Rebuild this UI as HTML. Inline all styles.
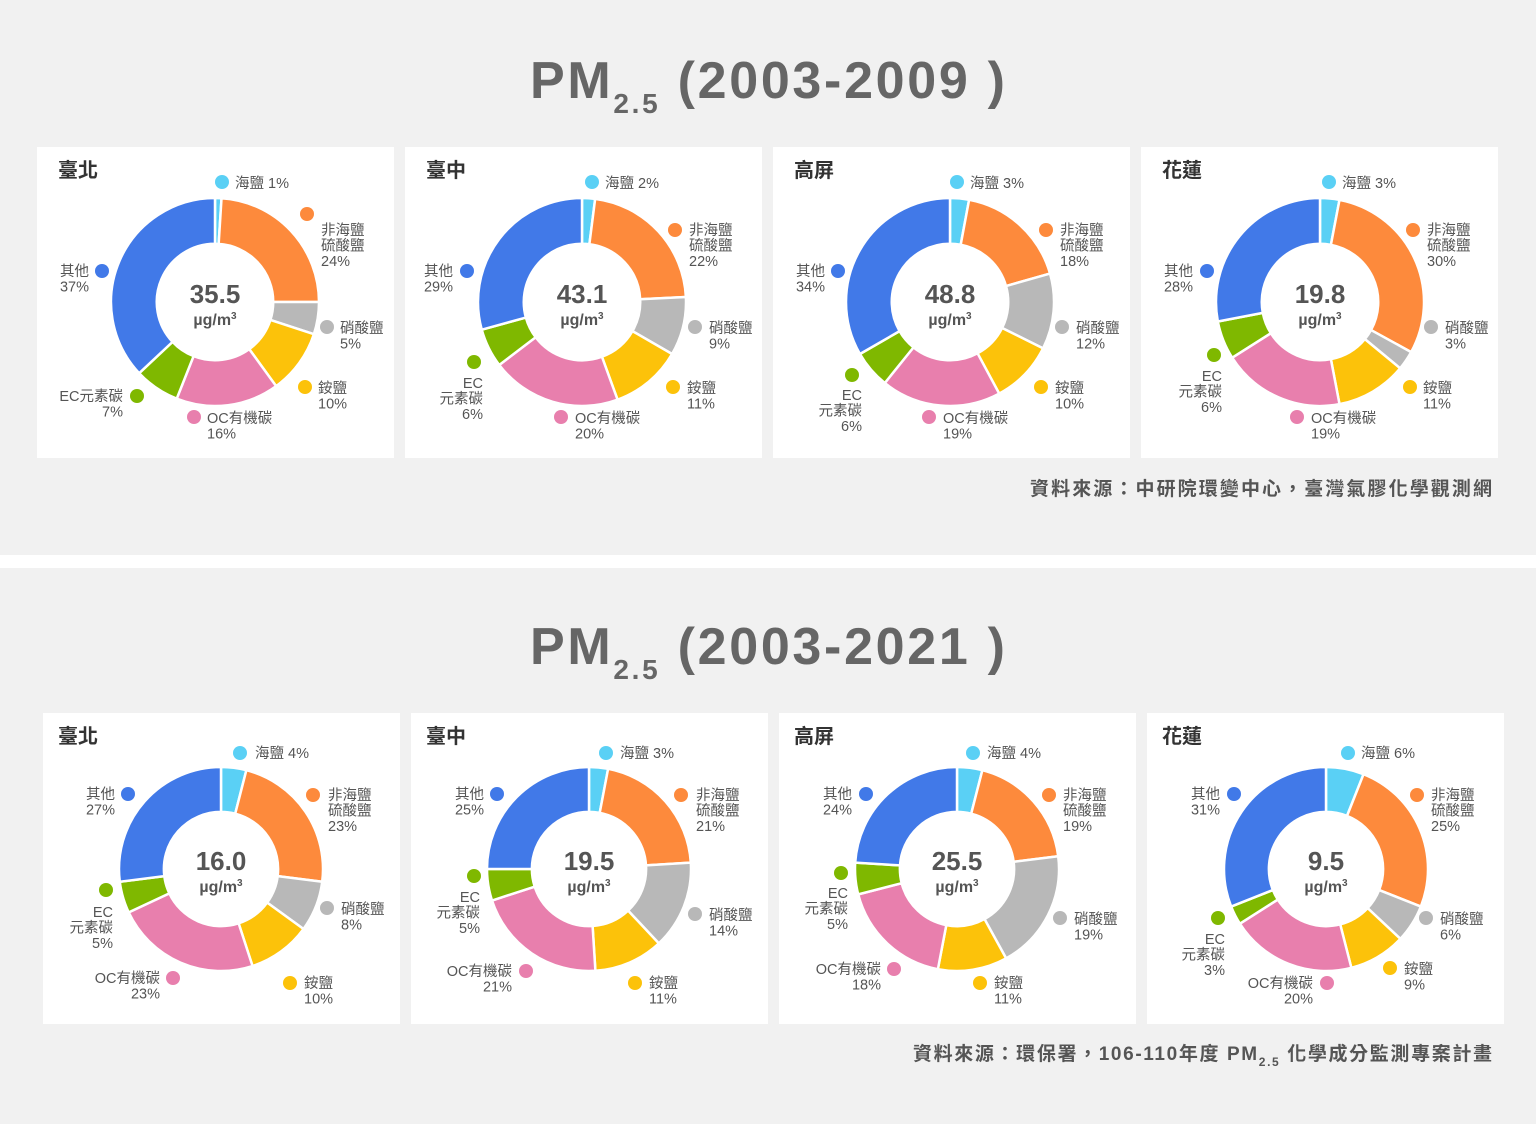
<!DOCTYPE html>
<html><head><meta charset="utf-8">
<style>
html,body{margin:0;padding:0;background:#f1f1f1;}
svg{display:block;font-family:"Liberation Sans","Noto Sans CJK TC",sans-serif;}
</style></head>
<body>
<svg id="s" width="1536" height="1124" viewBox="0 0 1536 1124" xmlns="http://www.w3.org/2000/svg">
<rect x="0" y="0" width="1536" height="1124" fill="#f1f1f1"/>
<rect x="0" y="555" width="1536" height="13" fill="#ffffff"/>
<text x="530" y="98" textLength="475" lengthAdjust="spacing" font-size="52" font-weight="bold" fill="#666">PM<tspan font-size="28" dy="15">2.5</tspan><tspan dy="-15"> (2003-2009 )</tspan></text>
<text x="530" y="664" textLength="475" lengthAdjust="spacing" font-size="52" font-weight="bold" fill="#666">PM<tspan font-size="28" dy="15">2.5</tspan><tspan dy="-15"> (2003-2021 )</tspan></text>
<text x="1030" y="495" textLength="462" lengthAdjust="spacing" font-size="19" font-weight="bold" fill="#555">資料來源：中研院環變中心，臺灣氣膠化學觀測網</text>
<text x="913" y="1060" textLength="579" lengthAdjust="spacing" font-size="19" font-weight="bold" fill="#555">資料來源：環保署，106-110年度 PM<tspan font-size="12" dy="6">2.5</tspan><tspan dy="-6"> 化學成分監測專案計畫</tspan></text>
<g id="g"></g>
</svg>
<script>
var C=['#5ad0f5','#fd8a3c','#b8b8b8','#fcc20a','#e87fad','#7fb800','#4179e8'];
var P=[
[37,147,'臺北',215,302,104,'35.5',[1,24,5,10,16,7,37],[
[0,222,182,'l',235,183,['海鹽 1%']],
[1,307,214,'l',321,230,['非海鹽','硫酸鹽','24%']],
[6,102,271,'r',89,271,['其他','37%']],
[2,327,327,'l',340,328,['硝酸鹽','5%']],
[3,305,387,'l',318,388,['銨鹽','10%']],
[4,194,417,'l',207,418,['OC有機碳','16%']],
[5,137,396,'r',123,396,['EC元素碳','7%']]]],
[405,147,'臺中',582,302,104,'43.1',[2,22,9,11,20,6,29],[
[0,592,182,'l',605,183,['海鹽 2%']],
[1,675,230,'l',689,230,['非海鹽','硫酸鹽','22%']],
[6,467,271,'r',453,271,['其他','29%']],
[2,695,327,'l',709,328,['硝酸鹽','9%']],
[3,673,387,'l',687,388,['銨鹽','11%']],
[4,561,417,'l',575,418,['OC有機碳','20%']],
[5,474,362,'r',483,383,['EC','元素碳','6%']]]],
[773,147,'高屏',950,302,104,'48.8',[3,18,12,10,19,6,34],[
[0,957,182,'l',970,183,['海鹽 3%']],
[1,1046,230,'l',1060,230,['非海鹽','硫酸鹽','18%']],
[6,838,271,'r',825,271,['其他','34%']],
[2,1062,327,'l',1076,328,['硝酸鹽','12%']],
[3,1041,387,'l',1055,388,['銨鹽','10%']],
[4,929,417,'l',943,418,['OC有機碳','19%']],
[5,852,375,'r',862,395,['EC','元素碳','6%']]]],
[1141,147,'花蓮',1320,302,104,'19.8',[3,30,3,11,19,6,28],[
[0,1329,182,'l',1342,183,['海鹽 3%']],
[1,1413,230,'l',1427,230,['非海鹽','硫酸鹽','30%']],
[6,1207,271,'r',1193,271,['其他','28%']],
[2,1431,327,'l',1445,328,['硝酸鹽','3%']],
[3,1410,387,'l',1423,388,['銨鹽','11%']],
[4,1297,417,'l',1311,418,['OC有機碳','19%']],
[5,1214,355,'r',1222,376,['EC','元素碳','6%']]]],
[43,713,'臺北',221,869,102,'16.0',[4,23,8,10,23,5,27],[
[0,240,753,'l',255,753,['海鹽 4%']],
[1,313,795,'l',328,795,['非海鹽','硫酸鹽','23%']],
[6,128,794,'r',115,794,['其他','27%']],
[2,327,908,'l',341,909,['硝酸鹽','8%']],
[3,290,983,'l',304,983,['銨鹽','10%']],
[4,173,978,'r',160,978,['OC有機碳','23%']],
[5,106,890,'r',113,912,['EC','元素碳','5%']]]],
[411,713,'臺中',589,869,102,'19.5',[3,21,14,11,21,5,25],[
[0,606,753,'l',620,753,['海鹽 3%']],
[1,681,795,'l',696,795,['非海鹽','硫酸鹽','21%']],
[6,497,794,'r',484,794,['其他','25%']],
[2,695,914,'l',709,915,['硝酸鹽','14%']],
[3,635,983,'l',649,983,['銨鹽','11%']],
[4,526,971,'r',512,971,['OC有機碳','21%']],
[5,474,876,'r',480,897,['EC','元素碳','5%']]]],
[779,713,'高屏',957,869,102,'25.5',[4,19,19,11,18,5,24],[
[0,973,753,'l',987,753,['海鹽 4%']],
[1,1049,795,'l',1063,795,['非海鹽','硫酸鹽','19%']],
[6,866,794,'r',852,794,['其他','24%']],
[2,1060,918,'l',1074,919,['硝酸鹽','19%']],
[3,980,983,'l',994,983,['銨鹽','11%']],
[4,894,969,'r',881,969,['OC有機碳','18%']],
[5,841,873,'r',848,893,['EC','元素碳','5%']]]],
[1147,713,'花蓮',1326,869,102,'9.5',[6,25,6,9,20,3,31],[
[0,1348,753,'l',1361,753,['海鹽 6%']],
[1,1417,795,'l',1431,795,['非海鹽','硫酸鹽','25%']],
[6,1234,794,'r',1220,794,['其他','31%']],
[2,1426,918,'l',1440,919,['硝酸鹽','6%']],
[3,1390,968,'l',1404,969,['銨鹽','9%']],
[4,1327,983,'r',1313,983,['OC有機碳','20%']],
[5,1218,918,'r',1225,939,['EC','元素碳','3%']]]]
];
var h='';
function pt(cx,cy,r,a){return [cx+r*Math.sin(a),cy-r*Math.cos(a)];}
P.forEach(function(p,k){
 var bx=p[0],by=p[1],cx=p[3],cy=p[4],R=p[5],r=R*0.56;
 h+='<rect x="'+bx+'" y="'+by+'" width="357" height="311" fill="#fff"/>';
 h+='<text x="'+(k<4?bx+21:bx+15)+'" y="'+(by+30)+'" font-size="20" font-weight="bold" fill="#333">'+p[2]+'</text>';
 var tot=p[7].reduce(function(a,b){return a+b},0),a0=0;
 p[7].forEach(function(v,i){
  var a1=a0+v/tot*2*Math.PI,l=(a1-a0)>Math.PI?1:0;
  var A=pt(cx,cy,R,a0),B=pt(cx,cy,R,a1),Cc=pt(cx,cy,r,a1),D=pt(cx,cy,r,a0);
  h+='<path d="M'+A+'A'+R+','+R+' 0 '+l+' 1 '+B+'L'+Cc+'A'+r+','+r+' 0 '+l+' 0 '+D+'Z" fill="'+C[i]+'" stroke="#fff" stroke-width="2.5" stroke-linejoin="round"/>';
  a0=a1;});
 h+='<text x="'+cx+'" y="'+(cy+1)+'" text-anchor="middle" font-size="26" font-weight="bold" fill="#555">'+p[6]+'</text>';
 h+='<text x="'+cx+'" y="'+(cy+23)+'" text-anchor="middle" font-size="16" font-weight="bold" fill="#555">µg/m<tspan font-size="10" dy="-6">3</tspan></text>';
 p[8].forEach(function(L){
  h+='<circle cx="'+L[1]+'" cy="'+L[2]+'" r="7" fill="'+C[L[0]]+'"/>';
  L[6].forEach(function(t,j){
   h+='<text x="'+L[4]+'" y="'+(L[5]+j*15.5+5)+'" text-anchor="'+(L[3]=='l'?'start':'end')+'" font-size="14.5" fill="#555">'+t+'</text>';
  });
 });
});
document.getElementById('g').innerHTML=h;
</script>
</body></html>
